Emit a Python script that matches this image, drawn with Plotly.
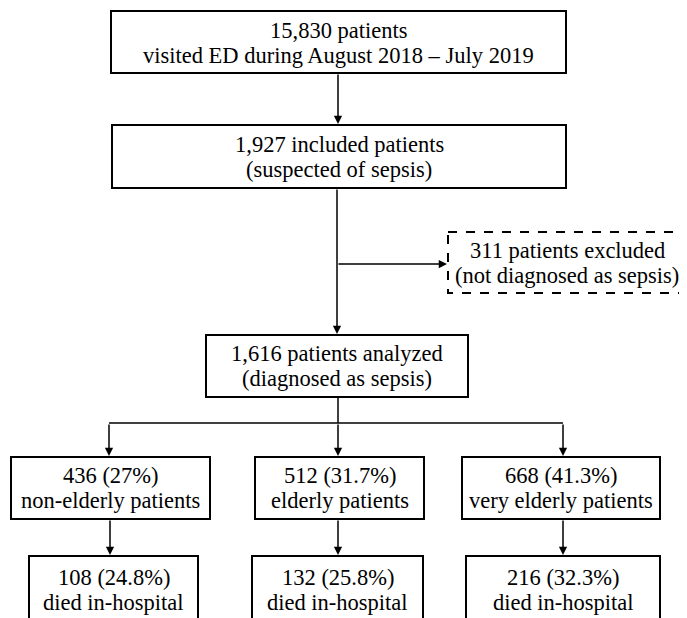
import plotly.graph_objects as go

# ---- data (texts of the flowchart) ----
captions = [
    ["15,830 patients", "visited ED during August 2018 – July 2019"],
    ["1,927 included patients", "(suspected of sepsis)"],
    ["311 patients excluded", "(not diagnosed as sepsis)"],
    ["1,616 patients analyzed", "(diagnosed as sepsis)"],
    ["436 (27%)", "non-elderly patients"],
    ["512 (31.7%)", "elderly patients"],
    ["668 (41.3%)", "very elderly patients"],
    ["108 (24.8%)", "died in-hospital"],
    ["132 (25.8%)", "died in-hospital"],
    ["216 (32.3%)", "died in-hospital"],
]

# ---- layout geometry (page pixel space) ----
boxes = [  # x0, y0, x1, y1, dashed
    (111, 11, 566, 73, False),
    (112, 125, 566, 188, False),
    (448, 232, 690, 293, True),
    (206, 335, 468, 397, False),
    (11, 457, 210, 519, False),
    (255, 457, 424, 519, False),
    (462, 457, 660, 519, False),
    (29, 556, 198, 660, False),
    (252, 556, 423, 660, False),
    (466, 556, 660, 660, False),
]
line1_y = [30, 144, 250, 353, 475, 475, 475, 577, 577, 577]
LINE_GAP = 25
text_x_override = {2: 567}

FONT = "Liberation Serif"
W, H = 687, 618
OFF = 8  # default page body margin

fig = go.Figure()
fig.add_trace(go.Scatter(x=[OFF, W + OFF], y=[OFF, H + OFF], mode="markers",
                         marker=dict(opacity=0), hoverinfo="skip", showlegend=False))

for i, (x0, y0, x1, y1, dashed) in enumerate(boxes):
    fig.add_shape(type="rect", x0=x0, y0=y0, x1=x1, y1=y1,
                  line=dict(color="black", width=2, dash="dash" if dashed else "solid"),
                  fillcolor="white", layer="below")
    cx = text_x_override.get(i, (x0 + x1) / 2)
    for k, txt in enumerate(captions[i]):
        fig.add_annotation(x=cx, y=line1_y[i] + k * LINE_GAP, text=txt,
                           showarrow=False, font=dict(family=FONT, size=22.5, color="black"),
                           xanchor="center", yanchor="middle", align="center")

def line(xa, ya, xb, yb):
    fig.add_shape(type="line", x0=xa, y0=ya, x1=xb, y1=yb,
                  line=dict(color="black", width=1.5))

def arrow(xa, ya, xb, yb):
    fig.add_annotation(x=xb, y=yb, ax=xa, ay=ya, xref="x", yref="y",
                       axref="x", ayref="y", text="", showarrow=True,
                       arrowhead=2, arrowsize=1.1, arrowwidth=1.5, arrowcolor="black")

arrow(338, 73, 338, 124)
arrow(337, 188, 337, 334)
arrow(337, 264, 447, 264)
line(338, 397, 338, 423)
line(109, 423, 563, 423)
arrow(109, 423, 109, 456)
arrow(338, 423, 338, 456)
arrow(563, 423, 563, 456)
arrow(110, 519, 110, 555)
arrow(338, 519, 338, 555)
arrow(563, 519, 563, 555)

fig.update_layout(
    width=W, height=H, margin=dict(l=0, r=0, t=0, b=0),
    plot_bgcolor="white", paper_bgcolor="white",
    xaxis=dict(range=[OFF, W + OFF], visible=False, fixedrange=True),
    yaxis=dict(range=[H + OFF, OFF], visible=False, fixedrange=True),
    showlegend=False,
)
fig.write_html("out.html")
